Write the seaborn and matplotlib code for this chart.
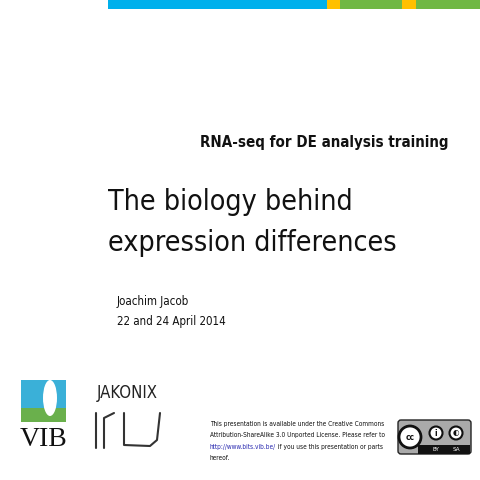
import matplotlib
matplotlib.use("Agg")
import matplotlib.pyplot as plt
import matplotlib.patches as mpatches
import seaborn as sns

sns.set_theme(style="white")
plt.rcParams['font.family'] = ['DejaVu Sans']
plt.rcParams['font.stretch'] = 'condensed'

# top stripe segments (pixel widths) and colours
stripe_widths = [219, 13, 62, 14, 64]
stripe_colors = ["#00b0ec", "#ffc000", "#70b844", "#ffc000", "#70b844"]
stripe_start = 108

subtitle = "RNA-seq for DE analysis training"
title_lines = ["The biology behind", "expression differences"]
author_lines = ["Joachim Jacob", "22 and 24 April 2014"]
license_lines = ["This presentation is available under the Creative Commons",
                 "Attribution-ShareAlike 3.0 Unported License. Please refer to",
                 "http://www.bits.vib.be/ if you use this presentation or parts",
                 "hereof."]

fig = plt.figure(figsize=(4.8, 4.8), dpi=100)
ax = fig.add_axes([0, 0, 1, 1])
ax.set_xlim(0, 480)
ax.set_ylim(480, 0)
ax.axis("off")

lefts = [stripe_start + sum(stripe_widths[:i]) for i in range(len(stripe_widths))]
ax.barh([4.5] * len(stripe_widths), stripe_widths, left=lefts, height=9,
        color=stripe_colors, linewidth=0)

ax.text(448, 143, subtitle, ha="right", va="center", fontsize=10.8, fontweight="bold", color="#111111")
ax.text(108, 202, title_lines[0], ha="left", va="center", fontsize=20.5, color="#111111")
ax.text(108, 243, title_lines[1], ha="left", va="center", fontsize=20.5, color="#111111")
ax.text(117, 302, author_lines[0], ha="left", va="center", fontsize=8.3, color="#111111")
ax.text(117, 321, author_lines[1], ha="left", va="center", fontsize=8.3, color="#111111")

# license text
for i, line in enumerate(license_lines):
    y = 424 + i * 11.5
    if i == 2:
        t = ax.text(210, y, "http://www.bits.vib.be/", ha="left", va="center", fontsize=4.7, color="#2a2ab0")
        ax.annotate(" if you use this presentation or parts", xycoords=t, xy=(1, 0.5),
                    ha="left", va="center", fontsize=4.7, color="#111111")
    else:
        ax.text(210, y, line, ha="left", va="center", fontsize=4.7, color="#111111")

# cc badge
ax.add_patch(mpatches.FancyBboxPatch((398, 420), 73, 34, boxstyle="round,pad=0,rounding_size=3",
                                     facecolor="#aaaaaa", edgecolor="#222222", linewidth=1))
ax.add_patch(mpatches.Rectangle((418, 445), 52, 9, facecolor="#111111", linewidth=0))
ax.add_patch(mpatches.Circle((410, 437), 11, facecolor="white", edgecolor="#111111", linewidth=2))
ax.text(410, 437, "cc", ha="center", va="center", fontsize=6, fontweight="bold", color="#111111")
for cx, sym in [(436, "i"), (456, "◐")]:
    ax.add_patch(mpatches.Circle((cx, 433), 6.5, facecolor="white", edgecolor="#111111", linewidth=1.5))
    ax.text(cx, 433, sym, ha="center", va="center", fontsize=6, fontweight="bold", color="#111111")
ax.text(436, 449.5, "BY", ha="center", va="center", fontsize=4.5, color="white")
ax.text(456, 449.5, "SA", ha="center", va="center", fontsize=4.5, color="white")

# VIB logo
ax.add_patch(mpatches.Rectangle((21, 380), 45, 42, facecolor="#3ab0d8", linewidth=0))
ax.add_patch(mpatches.Rectangle((21, 408), 45, 14, facecolor="#6ab04c", linewidth=0))
ax.add_patch(mpatches.Ellipse((50, 398), 14, 36, facecolor="white", linewidth=0))
ax.text(44, 440, "VIB", ha="center", va="center", fontsize=20, family="Liberation Serif", color="#111111")

# JAKONIX logo
ax.text(127, 393, "JAKONIX", ha="center", va="center", fontsize=12, color="#222222")
ax.plot([96, 96], [413, 448], color="#333333", lw=1.5)
ax.plot([104, 104, 114], [448, 418, 413], color="#333333", lw=1.5)
ax.plot([124, 124, 150, 157, 160], [413, 445, 446, 440, 413], color="#333333", lw=1.5)

fig.savefig("out.png", dpi=100, facecolor="white")
